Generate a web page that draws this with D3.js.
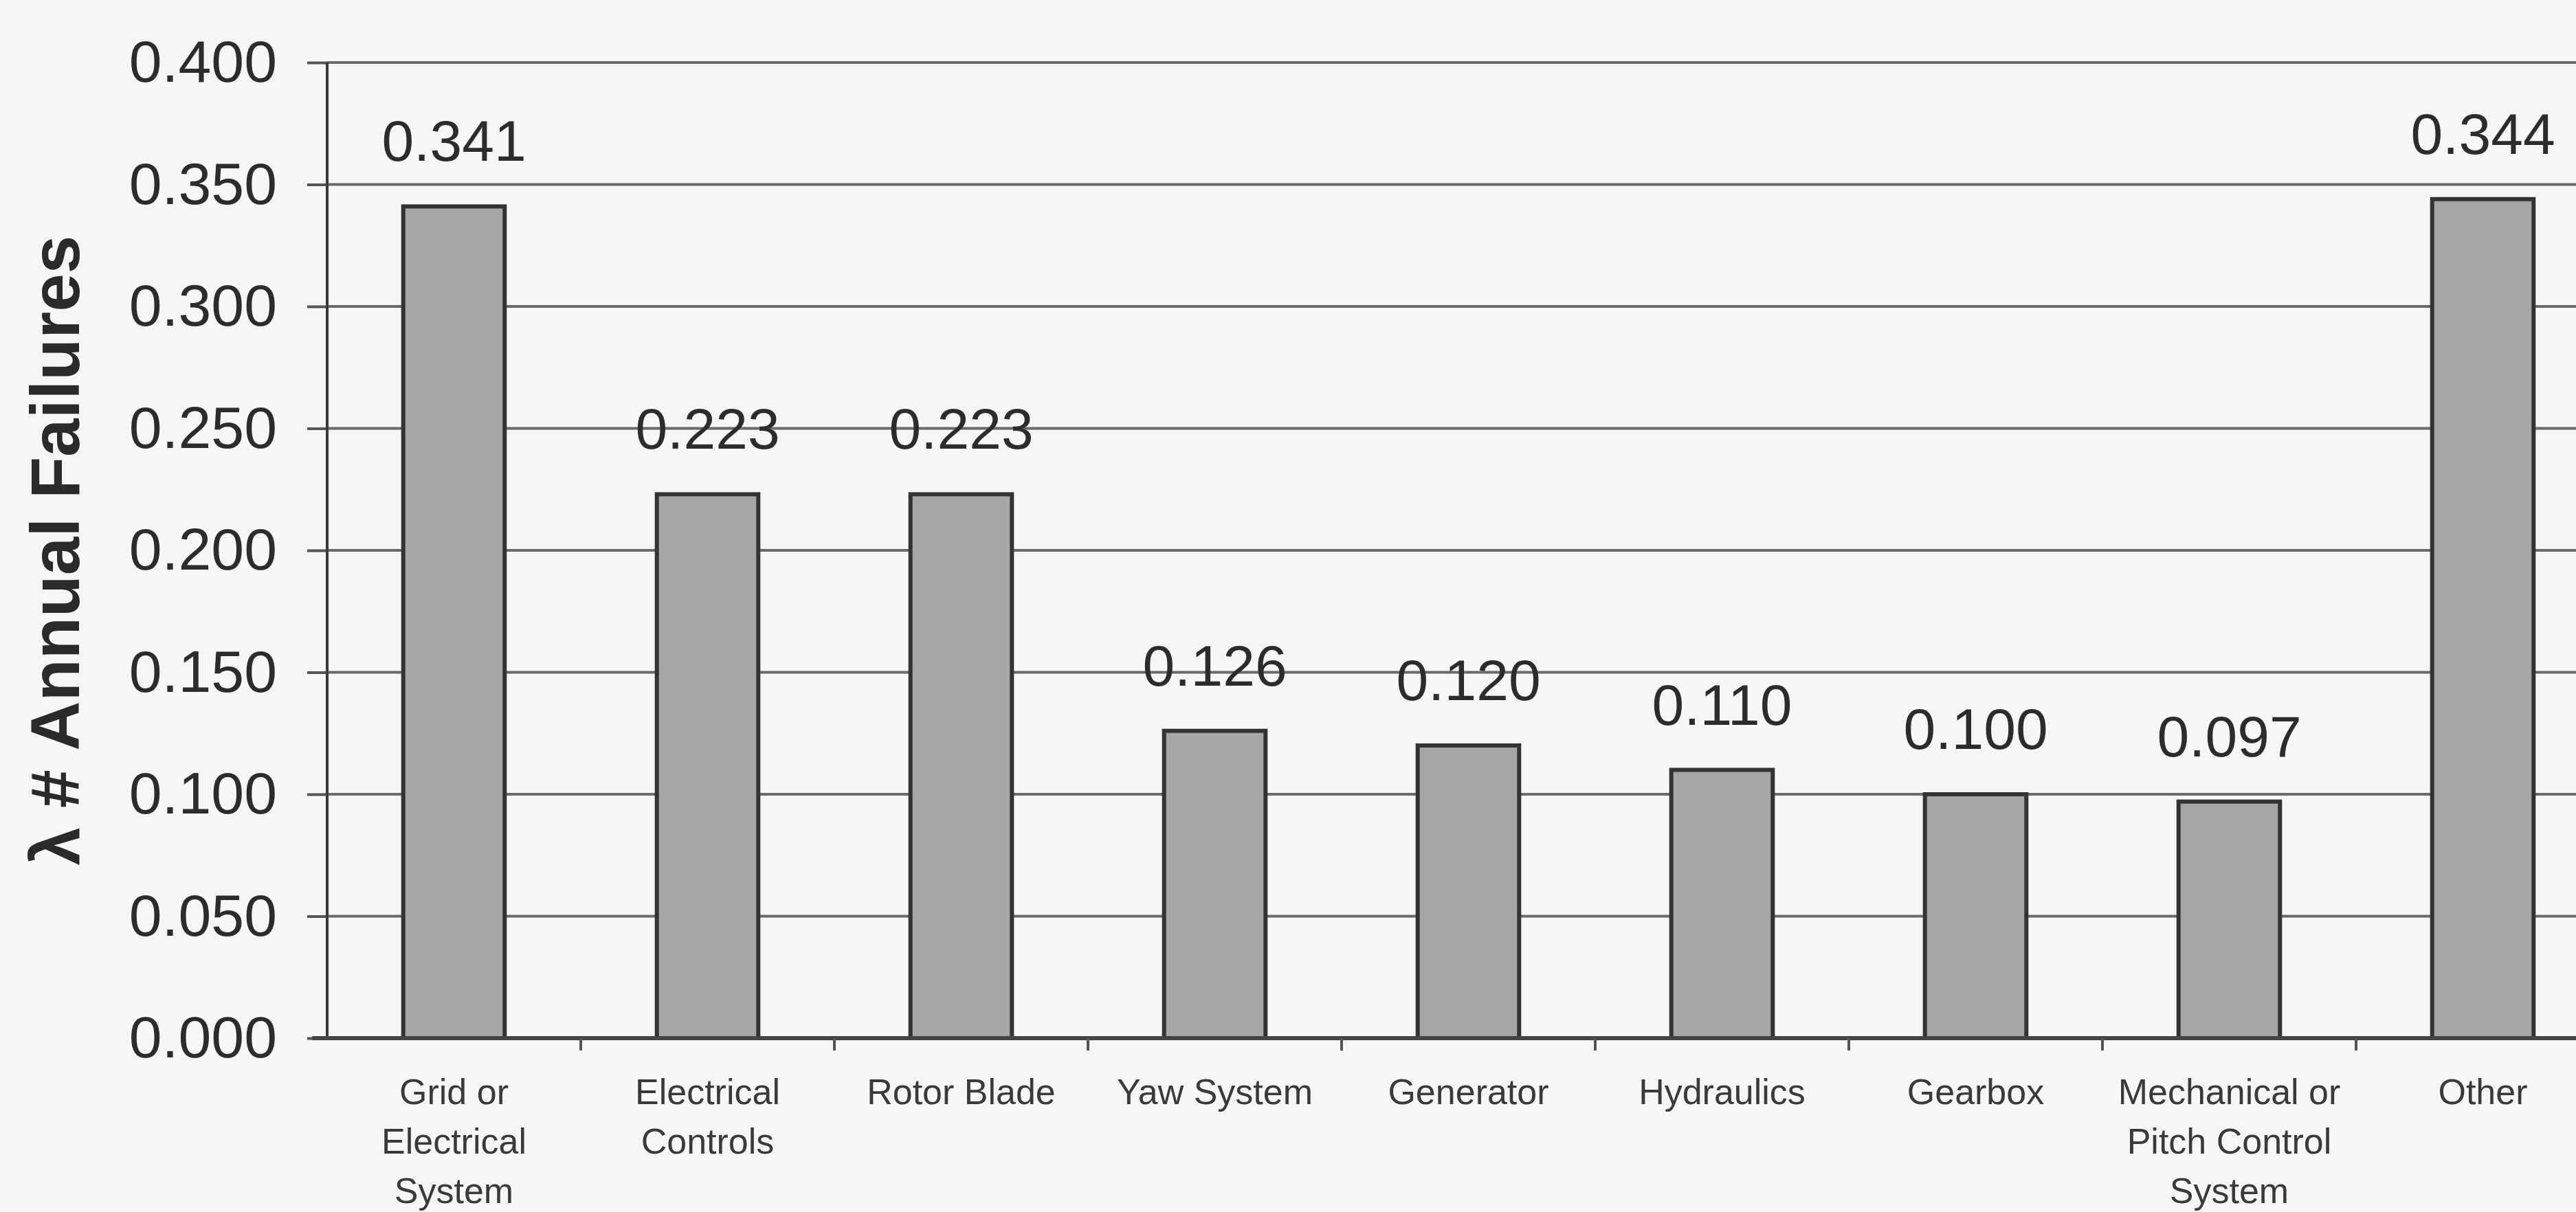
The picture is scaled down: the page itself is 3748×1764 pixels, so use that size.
<!DOCTYPE html>
<html>
<head>
<meta charset="utf-8">
<script src="https://cdn.jsdelivr.net/npm/d3@7"></script>
<style>
  html, body { margin: 0; padding: 0; background: #f6f6f5; }
  svg { display: block; }
</style>
</head>
<body>
<script>
// Annual failure rate (λ) per wind-turbine subsystem
const categories = [
  "Grid or Electrical System",
  "Electrical Controls",
  "Rotor Blade",
  "Yaw System",
  "Generator",
  "Hydraulics",
  "Gearbox",
  "Mechanical or Pitch Control System",
  "Other"
];
// category label lines as printed under the axis
const categoryLines = [
  ["Grid or", "Electrical", "System"],
  ["Electrical", "Controls"],
  ["Rotor Blade"],
  ["Yaw System"],
  ["Generator"],
  ["Hydraulics"],
  ["Gearbox"],
  ["Mechanical or", "Pitch Control", "System"],
  ["Other"]
];
const failureRates = [0.341, 0.223, 0.223, 0.126, 0.120, 0.110, 0.100, 0.097, 0.344];
const yTicks = [0, 0.05, 0.10, 0.15, 0.20, 0.25, 0.30, 0.35, 0.40];
const yTitle = "λ # Annual Failures";

const W = 3748, H = 1764;
// the plot area runs a little past the right edge of the page
const plot = { left: 476, top: 91, bottom: 1511, right: 3797 };

const svg = d3.select("body").append("svg")
  .attr("width", W).attr("height", H)
  .attr("viewBox", `0 0 ${W} ${H}`);

const x = d3.scaleBand()
  .domain(categories)
  .range([plot.left, plot.right])
  .paddingInner(0.6)
  .paddingOuter(0.3);

const y = d3.scaleLinear()
  .domain([0, 0.4])
  .range([plot.bottom, plot.top]);

const font = "'Liberation Sans', Arial, Helvetica, sans-serif";

// horizontal gridlines
svg.append("g")
  .selectAll("line")
  .data(yTicks.filter(d => d > 0))
  .join("line")
  .attr("x1", plot.left).attr("x2", W)
  .attr("y1", d => y(d)).attr("y2", d => y(d))
  .attr("stroke", "#6a6a6a")
  .attr("stroke-width", 4);

// y axis with ticks and labels
const yAxis = d3.axisLeft(y)
  .tickValues(yTicks)
  .tickFormat(d3.format(".3f"))
  .tickSize(29)
  .tickPadding(44);

const gy = svg.append("g")
  .attr("transform", `translate(${plot.left},0)`)
  .call(yAxis);
gy.select(".domain").remove();
gy.selectAll(".tick line").attr("stroke", "#555").attr("stroke-width", 4);
gy.selectAll(".tick text")
  .attr("font-family", font)
  .attr("font-size", 86)
  .attr("fill", "#2c2c2c");
gy.append("line")
  .attr("x1", 0).attr("x2", 0)
  .attr("y1", plot.top).attr("y2", plot.bottom)
  .attr("stroke", "#3a3a3a").attr("stroke-width", 4);

// bars
svg.append("g")
  .selectAll("rect")
  .data(failureRates)
  .join("rect")
  .attr("x", (d, i) => x(categories[i]))
  .attr("y", d => y(d))
  .attr("width", x.bandwidth())
  .attr("height", d => y(0) - y(d))
  .attr("fill", "#a6a6a6")
  .attr("stroke", "#333")
  .attr("stroke-width", 6);

// x axis baseline and category separators
const gx = svg.append("g");
gx.append("line")
  .attr("x1", plot.left - 22).attr("x2", W)
  .attr("y1", y(0)).attr("y2", y(0))
  .attr("stroke", "#444").attr("stroke-width", 6);
gx.selectAll("line.sep")
  .data(categories.slice(0, -1))
  .join("line")
  .attr("class", "sep")
  .attr("x1", d => x(d) + x.bandwidth() + x.step() * 0.3)
  .attr("x2", d => x(d) + x.bandwidth() + x.step() * 0.3)
  .attr("y1", y(0)).attr("y2", y(0) + 18)
  .attr("stroke", "#555").attr("stroke-width", 4);

// category labels
const cat = svg.append("g")
  .selectAll("text")
  .data(categories)
  .join("text")
  .attr("x", d => x(d) + x.bandwidth() / 2)
  .attr("y", 1607)
  .attr("text-anchor", "middle")
  .attr("font-family", font)
  .attr("font-size", 52)
  .attr("fill", "#3a3a3a");
cat.selectAll("tspan")
  .data((d, i) => categoryLines[i])
  .join("tspan")
  .attr("x", function () { return d3.select(this.parentNode).attr("x"); })
  .attr("dy", (d, j) => j === 0 ? 0 : 72)
  .text(d => d);

// value labels above bars
svg.append("g")
  .selectAll("text")
  .data(failureRates)
  .join("text")
  .attr("x", (d, i) => x(categories[i]) + x.bandwidth() / 2)
  .attr("y", d => y(d) - 66)
  .attr("text-anchor", "middle")
  .attr("font-family", font)
  .attr("font-size", 84)
  .attr("fill", "#2c2c2c")
  .text(d => d3.format(".3f")(d));

// y axis title
svg.append("text")
  .attr("transform", `translate(115, ${(plot.top + plot.bottom) / 2}) rotate(-90)`)
  .attr("text-anchor", "middle")
  .attr("font-family", font)
  .attr("font-size", 100)
  .attr("font-weight", "bold")
  .attr("fill", "#2a2a2a")
  .text(yTitle);
</script>
</body>
</html>
